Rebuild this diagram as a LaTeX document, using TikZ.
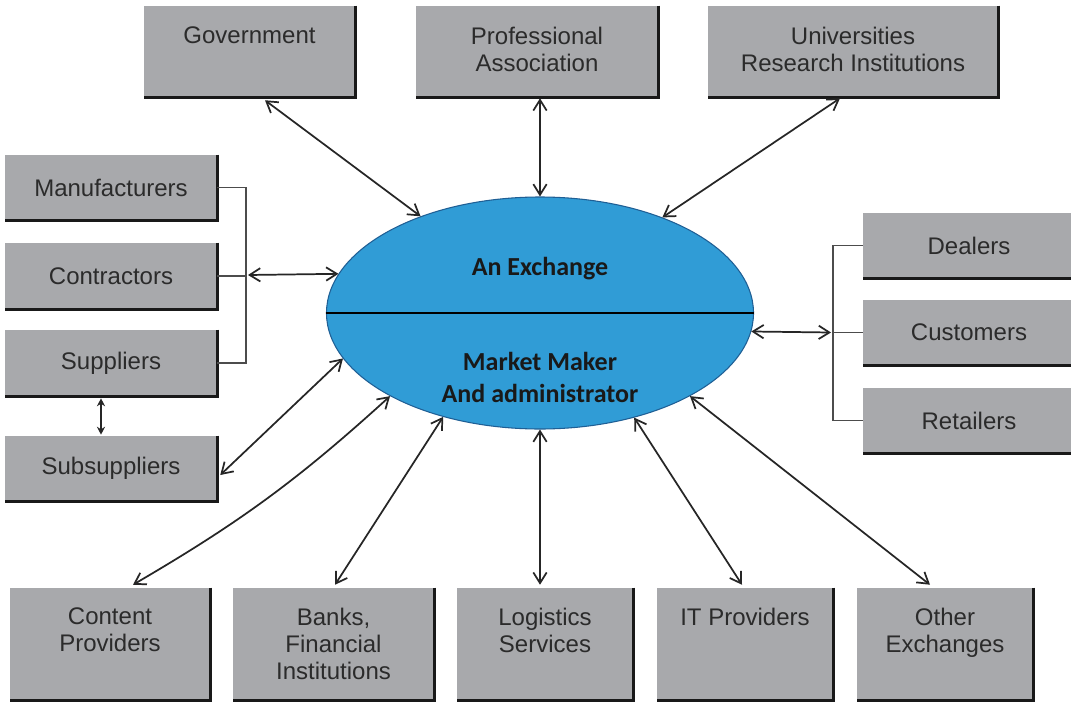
\documentclass[tikz,border=0pt]{standalone}
\usepackage{fontspec}
\setmainfont{Liberation Sans}
\newfontfamily\calib{Carlito}
\usetikzlibrary{arrows.meta,shapes.geometric,fit,calc}
\definecolor{boxgray}{HTML}{A8A9AC}
\definecolor{boxtxt}{HTML}{2B2B2B}
\definecolor{exblue}{HTML}{309CD6}
\definecolor{exedge}{HTML}{1F5F95}
\definecolor{linegray}{HTML}{262626}
\tikzset{
  gbox/.style={fill=boxgray, draw=none, inner sep=0pt},
  shadowedge/.style={draw=black!90, line width=2.2pt},
  boxtext/.style={font=\fontsize{18}{20.25}\selectfont, text=boxtxt, align=center, inner sep=0pt},
  extext/.style={font=\calib\bfseries\fontsize{19.5}{23.8}\selectfont, text=black!90, align=center, inner sep=0pt},
  arr/.style={draw=linegray, line width=1.3pt, {Straight Barb[length=8pt,width=10pt]}-{Straight Barb[length=8pt,width=10pt]}},
  arrsmall/.style={draw=linegray, line width=1pt, {Stealth[length=6pt,width=6pt]}-{Stealth[length=6pt,width=6pt]}},
  bracket/.style={draw=black!70, line width=0.9pt}
}
\begin{document}
\begin{tikzpicture}[x=0.75pt,y=-0.75pt]
\useasboundingbox (0,0) rectangle (1071,703);
\fill[white] (0,0) rectangle (1071,703);

% boxes
\foreach \n/\xa/\ya/\xb/\yb in {gov/144/6/355/97, prof/416/6/658/97, univ/708/6/998/97,
  manu/5/155/217/220, contr/5/243/217/309, supp/5/330/217/396, subs/5/436/217/501,
  deal/863/213/1075/278, cust/863/300/1075/365, ret/863/388/1075/453,
  cont/10/588/210/700, bank/233/588/434/700, logi/457/588/633/700, itp/657/588/833/700, oth/857/588/1033/700}{
  \node[gbox, fit={(\xa,\ya) (\xb,\yb)}] (\n) {};
  \draw[shadowedge] (\n.north east) -- (\n.south east) -- (\n.south west);
}

% top-aligned texts
\node[boxtext, anchor=north] (govt) at ($(gov.north)+(0,21)$) {Government};
\node[boxtext, anchor=north] (proft) at ($(prof.north)+(0,21)$) {Professional\\Association};
\node[boxtext, anchor=north] (univt) at ($(univ.north)+(0,21)$) {Universities\\Research Institutions};
\node[boxtext, anchor=north] (contt) at ($(cont.north)+(0,20)$) {Content\\Providers};
\node[boxtext, anchor=north] (bankt) at ($(bank.north)+(0,20)$) {Banks,\\Financial\\Institutions};
\node[boxtext, anchor=north] (logit) at ($(logi.north)+(0,20)$) {Logistics\\Services};
\node[boxtext, anchor=north] (itpt) at ($(itp.north)+(0,20)$) {IT Providers};
\node[boxtext, anchor=north] (otht) at ($(oth.north)+(0,20)$) {Other\\Exchanges};

% centred texts
\node[boxtext] (manut) at (manu.center) {Manufacturers};
\node[boxtext] (contrt) at (contr.center) {Contractors};
\node[boxtext] (suppt) at (supp.center) {Suppliers};
\node[boxtext] (subst) at (subs.center) {Subsuppliers};
\node[boxtext] (dealt) at (deal.center) {Dealers};
\node[boxtext] (custt) at (cust.center) {Customers};
\node[boxtext] (rett) at (ret.center) {Retailers};

% ellipse
\node[ellipse, draw=exedge, line width=0.8pt, fill=exblue, minimum width=320.25pt, minimum height=174pt, inner sep=0pt] (ex) at (540,313) {};
\draw[black, line width=1.1pt] (ex.west) -- (ex.east);
\node[extext, anchor=base] (ex1) at (540,275) {An Exchange};
\node[extext, anchor=north] (ex2) at (540,352) {Market Maker\\And administrator};

% brackets
\coordinate (lj) at (246,275);
\coordinate (rj) at (833,332.5);
\draw[bracket] (manu.east) -| (lj) |- (supp.east);
\draw[bracket] (contr.east) -- (contr.east -| lj);
\draw[bracket] (deal.west) -| (rj) |- (ret.west);
\draw[bracket] (cust.west) -- (rj);

% connectors
\draw[arr] ($(gov.south)+(15.5,3)$) -- (ex.141);
\draw[arr] ($(prof.south)+(3,1)$) -- (ex.north);
\draw[arr] ($(univ.south)+(-13,1)$) -- (ex.38);
\draw[arr] ($(lj)+(2,0)$) -- (ex.169);
\draw[arr] (ex.355) -- ($(rj)+(-2,0)$);
\draw[arr] ($(subs.east)+(3,6.5)$) -- (ex.193);
\draw[arr] ($(cont.north)+(23,-3)$) to[bend right=6] (ex.209);
\draw[arr] ($(bank.north)+(1.5,-3)$) -- (ex.227);
\draw[arr] ($(logi.north)+(-5,-3)$) -- (ex.south);
\draw[arr] ($(itp.north)+(-3,-3)$) -- (ex.312);
\draw[arr] ($(oth.north)+(-15,-3)$) -- (ex.331);
\draw[arrsmall] ($(supp.south)+(-10,2)$) -- ($(subs.north)+(-10,-1)$);
\end{tikzpicture}
\end{document}
